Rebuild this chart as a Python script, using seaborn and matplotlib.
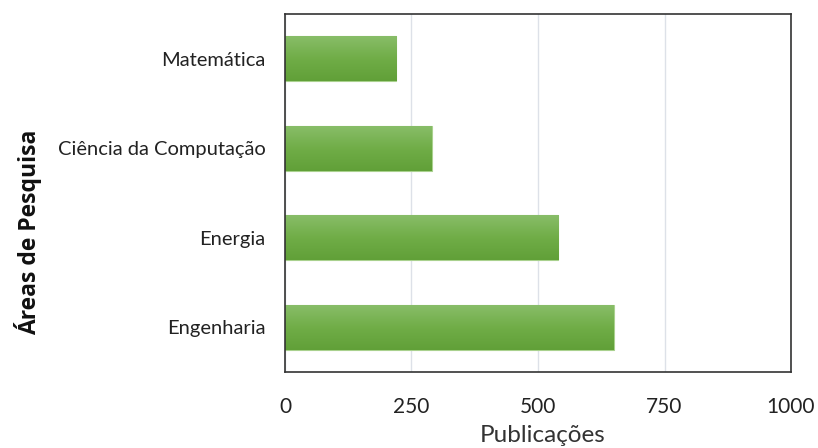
import numpy as np
import pandas as pd
import matplotlib
matplotlib.use("Agg")
import matplotlib.pyplot as plt
from matplotlib.colors import LinearSegmentedColormap
import seaborn as sns

# Research areas and their publication counts
areas = ["Matemática", "Ciência da Computação", "Energia", "Engenharia"]
publicacoes = [220, 290, 540, 650]
x_ticks = [0, 250, 500, 750, 1000]

df = pd.DataFrame({"Área": areas, "Publicações": publicacoes})

sns.set_theme(style="white")
plt.rcParams["font.family"] = ["Lato", "DejaVu Sans"]

fig = plt.figure(figsize=(8.18, 4.48), dpi=100)
ax = fig.add_axes([0.3484, 0.1696, 0.6186, 0.7991])

sns.barplot(data=df, y="Área", x="Publicações", orient="h", color="#70ad47",
            width=0.5, edgecolor="#a9d18e", linewidth=0.8, ax=ax, zorder=2)

# vertical gradient fill inside each bar
grad = LinearSegmentedColormap.from_list("g", ["#88bd68", "#70ad47", "#61a038"])
gimg = np.linspace(0, 1, 64).reshape(-1, 1)
for p in list(ax.patches):
    x0, y0 = p.get_x(), p.get_y()
    w, h = p.get_width(), p.get_height()
    im = ax.imshow(gimg, cmap=grad, aspect="auto", interpolation="bicubic",
                   extent=[x0, x0 + w, y0 + h, y0], zorder=2.5)
    im.set_clip_path(p)

ax.set_xlim(0, 1000)
ax.set_ylim(3.5, -0.5)
ax.set_xticks(x_ticks)
ax.set_xticklabels([str(t) for t in x_ticks], fontsize=15, color="#222222")
ax.tick_params(axis="y", labelsize=14.5, colors="#222222", length=0, pad=14)
ax.tick_params(axis="x", length=0, pad=18)
ax.xaxis.grid(True, color="#dde1e8", linewidth=1.0, zorder=0)
ax.set_axisbelow(True)
for s in ax.spines.values():
    s.set_visible(True)
    s.set_color("#333333")
    s.set_linewidth(1.2)

ax.set_xlabel("Publicações", fontsize=17.5, color="#333333")
ax.xaxis.set_label_coords(0.51, -0.148)
ax.set_ylabel("Áreas de Pesquisa", fontsize=16.5, fontweight="bold",
              color="#111111", family=["Open Sans", "DejaVu Sans"])
ax.yaxis.set_label_coords(-0.48, 0.39)

fig.savefig("out.png", dpi=100)
